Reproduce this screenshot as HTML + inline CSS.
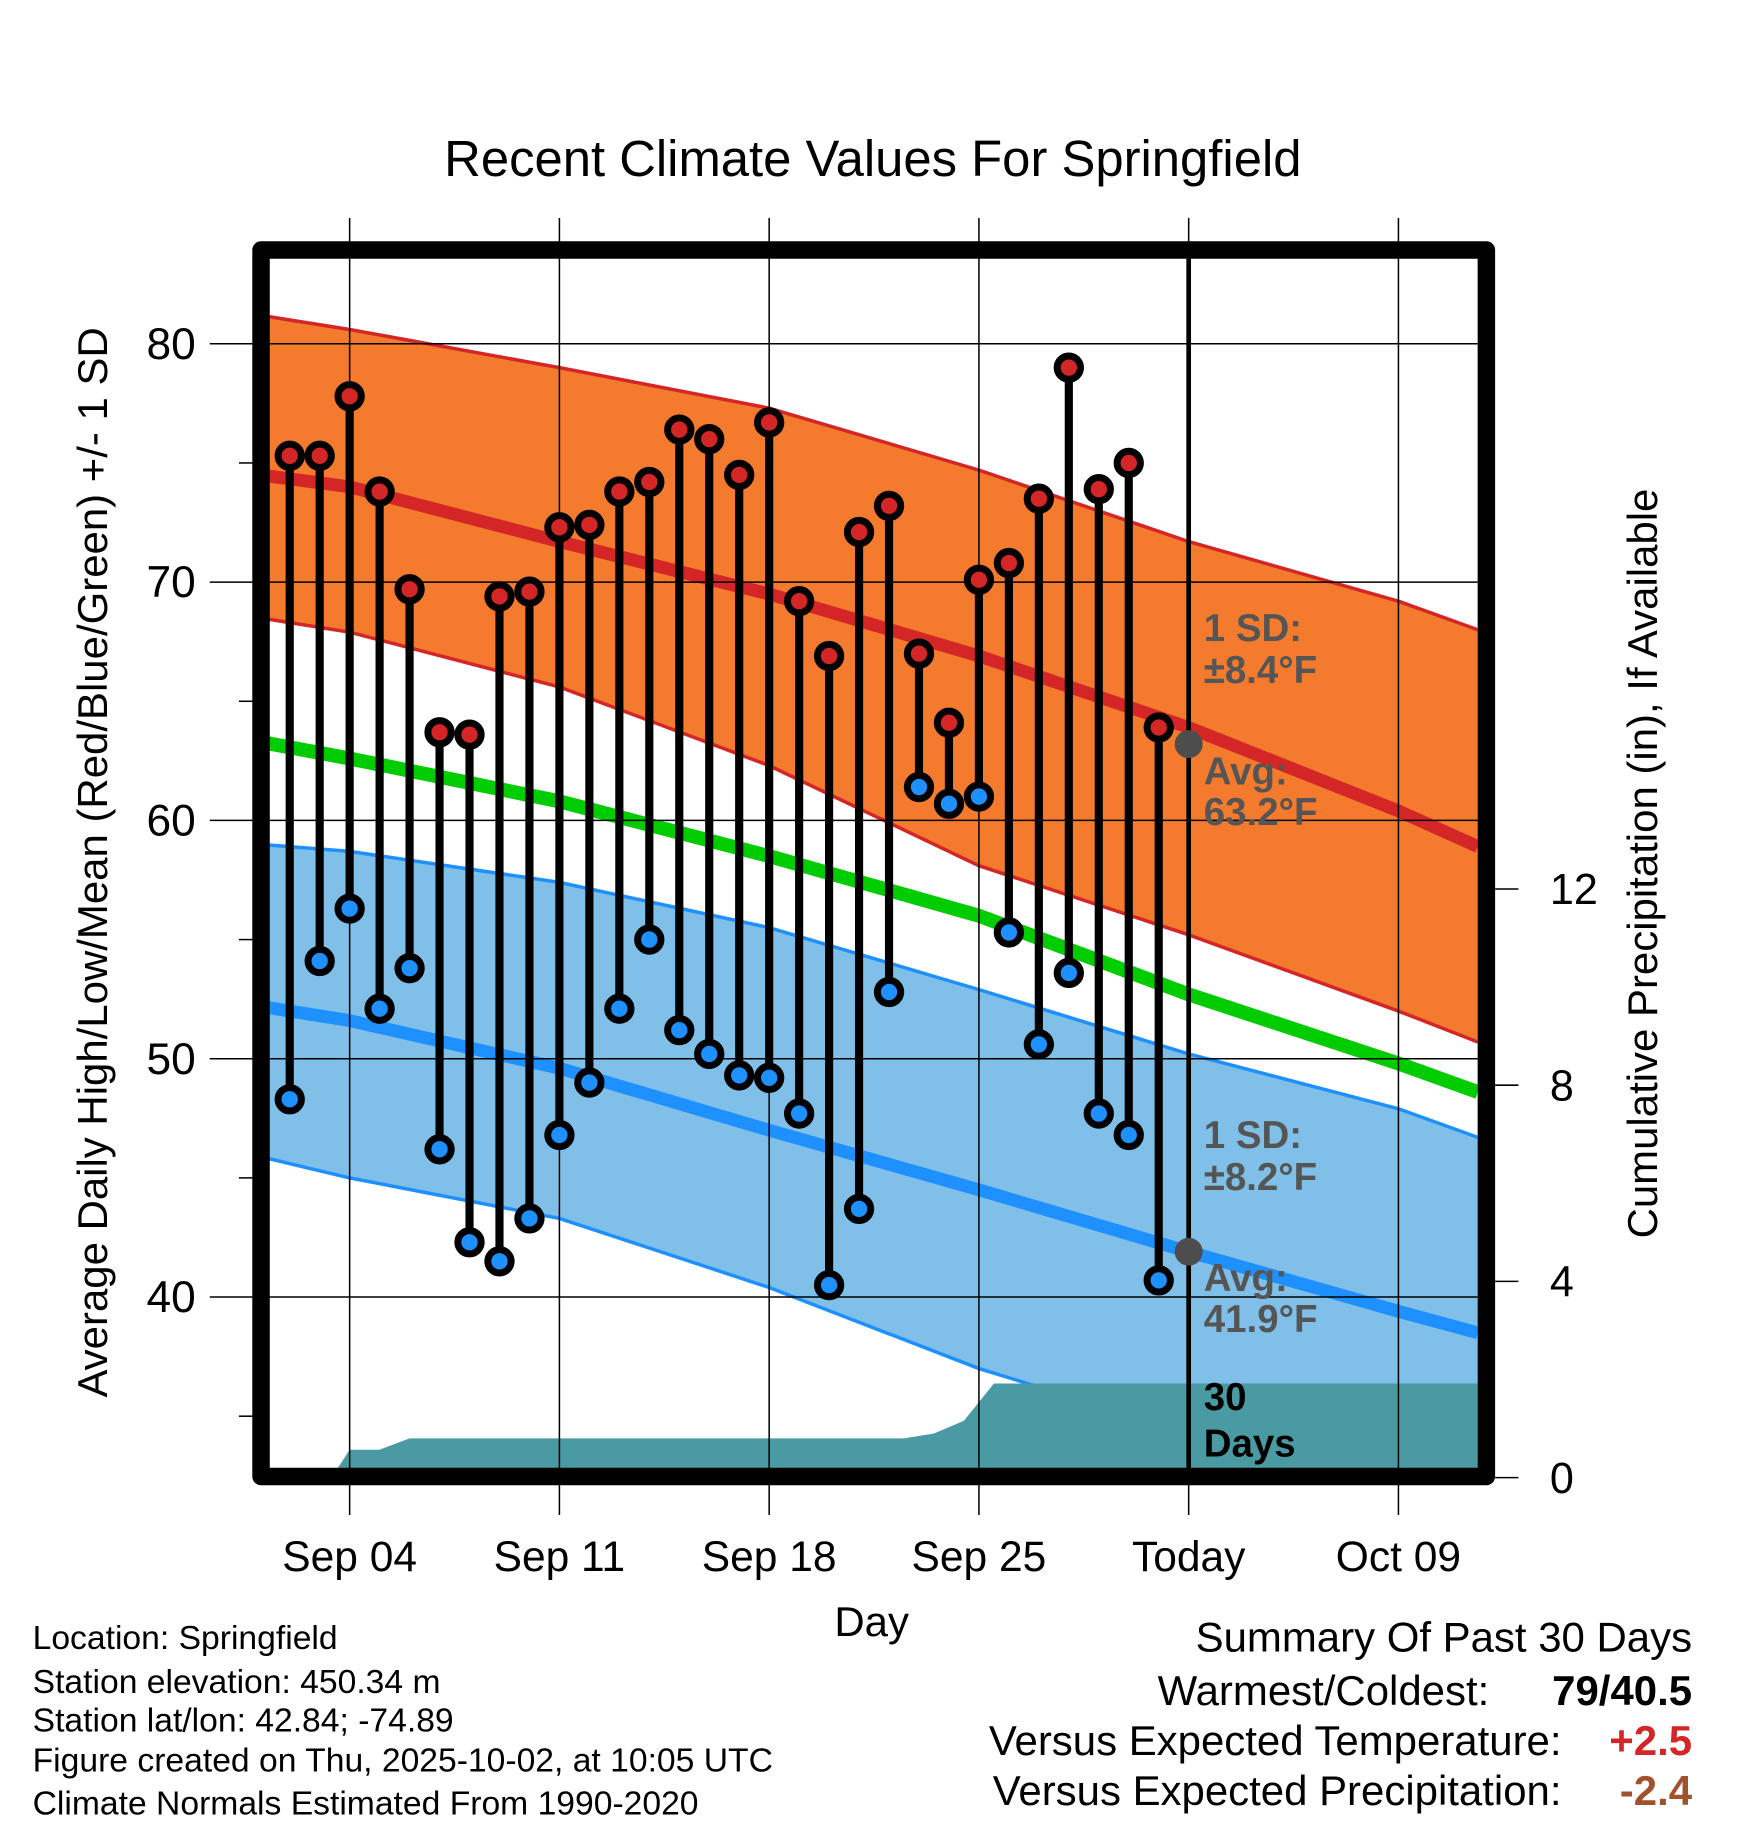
<!DOCTYPE html>
<html><head><meta charset="utf-8"><style>
html,body{margin:0;padding:0;background:#fff;}
svg{display:block;font-family:"Liberation Sans",Arial,sans-serif;}
</style></head><body>
<svg id="chart" width="1748" height="1828" viewBox="0 0 1500 1568.6" xmlns="http://www.w3.org/2000/svg">
<rect x="0" y="0" width="1500" height="1569" fill="#fff"/>
<text x="749" y="151" font-size="43.6" text-anchor="middle">Recent Climate Values For Springfield</text>
<g id="plot"></g>
</svg>
<script>
const dayLabels=["Sep 04","Sep 11","Sep 18","Sep 25","Today","Oct 09"];
const dayLabelOffsets=[3,10,17,24,31,38];
const yTicks=[40,50,60,70,80];
const yMinor=[35,45,55,65,75];
const pTicks=[0,4,8,12];
// normals at day offsets from Sep 1
const normDays=[0,3,10,17,24,31,38,40.65];
const highUpper=[81.2,80.6,79.0,77.3,74.7,71.7,69.2,68.0];
const highMean=[74.5,74.0,71.7,69.5,66.9,63.9,60.4,58.9];
const highLower=[68.5,67.9,65.6,62.3,58.1,55.2,52.0,50.7];
const avgMean=[63.3,62.6,60.8,58.5,56.0,52.7,49.8,48.6];
const lowUpper=[59.0,58.7,57.4,55.5,52.9,50.2,47.9,46.7];
const lowMean=[52.2,51.6,49.6,47.0,44.5,41.9,39.4,38.5];
const lowLower=[45.9,45.0,43.3,40.4,37.0,34.3,32.0,31.0];
// observations, Sep 2 .. Oct 1
const obsDays=[1,2,3,4,5,6,7,8,9,10,11,12,13,14,15,16,17,18,19,20,21,22,23,24,25,26,27,28,29,30];
const highs=[75.3,75.3,77.8,73.8,69.7,63.7,63.6,69.4,69.6,72.3,72.4,73.8,74.2,76.4,76.0,74.5,76.7,69.2,66.9,72.1,73.2,67.0,64.1,70.1,70.8,73.5,79.0,73.9,75.0,63.9];
const lows=[48.3,54.1,56.3,52.1,53.8,46.2,42.3,41.5,43.3,46.8,49.0,52.1,55.0,51.2,50.2,49.3,49.2,47.7,40.5,43.7,52.8,61.4,60.7,61.0,55.3,50.6,53.6,47.7,46.8,40.7];
// cumulative precipitation
const precipDays=[2.4,3,4,5,21.5,22.5,23.5,24.5,40.65];
const precipVals=[0,0.57,0.57,0.8,0.8,0.9,1.16,1.92,1.92];

const NS="http://www.w3.org/2000/svg";
const g=document.getElementById('plot');
const L=231,R=1268,T=222,B=1260;
const X=d=>222.9+d*25.714;
const Y=v=>295+(80-v)*20.45;
const P=p=>1268-p*42.1;
function el(tag,attrs,parent){const e=document.createElementNS(NS,tag);for(const k in attrs)e.setAttribute(k,attrs[k]);(parent||g).appendChild(e);return e;}
function txt(s,attrs){const e=el('text',attrs);e.textContent=s;return e;}

const defs=el('defs',{});
const cp=el('clipPath',{id:'clip'},defs);el('rect',{x:L,y:T,width:R-L,height:B-T},cp);
const pg=el('g',{'clip-path':'url(#clip)'});

function band(up,lo,fill,name){
  let d='M'+normDays.map((t,i)=>X(t)+','+Y(up[i])).join(' L');
  for(let i=normDays.length-1;i>=0;i--)d+=' L'+X(normDays[i])+','+Y(lo[i]);
  const e=el('path',{d:d+'Z',fill:fill},pg);
  
  
}
function line(arr,color,w,name){
  const e=el('polyline',{points:normDays.map((t,i)=>X(t)+','+Y(arr[i])).join(' '),fill:'none',stroke:color,'stroke-width':w},pg);
  
  
}
band(highUpper,highLower,'#f47a2e','high-sd-band');
line(highUpper,'#d42626',3,'high-sd-upper');
line(highLower,'#d42626',3,'high-sd-lower');
band(lowUpper,lowLower,'#80c0e8','low-sd-band');
line(lowUpper,'#1e90ff',3,'low-sd-upper');
line(lowLower,'#1e90ff',3,'low-sd-lower');
line(highMean,'#d42626',11,'normal-high-line');
line(avgMean,'#00cc00',12,'normal-mean-line');
line(lowMean,'#1e90ff',11,'normal-low-line');
// precip
{let d='M'+X(precipDays[0])+','+P(0);precipDays.forEach((t,i)=>d+=' L'+X(t)+','+P(precipVals[i]));d+=' L'+X(precipDays[precipDays.length-1])+','+P(0)+'Z';
const e=el('path',{d:d,fill:'#4a9aa3'},pg);

}
// grid
yTicks.forEach(v=>{const e=el('line',{x1:180,x2:R,y1:Y(v),y2:Y(v),stroke:'#000','stroke-width':1.3});


const t=txt(v,{x:168,y:Y(v)+13,'font-size':38,'text-anchor':'end'});

});
yMinor.forEach(v=>{const e=el('line',{x1:205,x2:217,y1:Y(v),y2:Y(v),stroke:'#000','stroke-width':1.3});

});
dayLabels.forEach((s,i)=>{const x=X(dayLabelOffsets[i]);
const e=el('line',{x1:x,x2:x,y1:187,y2:1300,stroke:'#000','stroke-width':1.3});


const t=txt(s,{x:x,y:1348,'font-size':36.5,'text-anchor':'middle'});

});
pTicks.forEach(p=>{const e=el('line',{x1:1283,x2:1303,y1:P(p),y2:P(p),stroke:'#000','stroke-width':1.3});


const t=txt(p,{x:1330,y:P(p)+13,'font-size':37,'text-anchor':'start'});

});
// today line
{const e=el('line',{x1:X(31),x2:X(31),y1:T,y2:B,stroke:'#000','stroke-width':4});

}
// observations
obsDays.forEach((d,i)=>{const x=X(d);
const s=el('line',{x1:x,x2:x,y1:Y(highs[i]),y2:Y(lows[i]),stroke:'#000','stroke-width':7});


const h=el('circle',{cx:x,cy:Y(highs[i]),r:10,fill:'#d42626',stroke:'#000','stroke-width':6});


const l=el('circle',{cx:x,cy:Y(lows[i]),r:10,fill:'#1e90ff',stroke:'#000','stroke-width':6});

});
// today avg markers
[[63.2,'today-high-avg-marker'],[41.9,'today-low-avg-marker']].forEach(a=>{const c=el('circle',{cx:X(31),cy:Y(a[0]),r:12,fill:'#4d4d4d'});

});
// annotations
const ann=[["1 SD:",550,'#555'],["±8.4°F",586,'#555'],["Avg:",673,'#555'],["63.2°F",708,'#555'],["1 SD:",985,'#555'],["±8.2°F",1021,'#555'],["Avg:",1108,'#555'],["41.9°F",1143,'#555'],["30",1210,'#000'],["Days",1250,'#000']];
ann.forEach(a=>{const t=txt(a[0],{x:1033,y:a[1],'font-size':33,'font-weight':'bold',fill:a[2]});

});
// frame
{const e=el('rect',{x:224,y:214.5,width:1051.5,height:1052.5,fill:'none',stroke:'#000','stroke-width':15,'stroke-linejoin':'round'});

}
// axis titles
{const t=txt('Average Daily High/Low/Mean (Red/Blue/Green) +/- 1 SD',{x:0,y:0,'font-size':36,'text-anchor':'middle',transform:'translate(92,740) rotate(-90)'});


const t2=txt('Cumulative Precipitation (in), If Available',{x:0,y:0,'font-size':36,'text-anchor':'middle',transform:'translate(1422,741) rotate(-90)'});


const t3=txt('Day',{x:748,y:1404,'font-size':36,'text-anchor':'middle'});

}
// footer
[["Location: Springfield",1415],["Station elevation: 450.34 m",1453],["Station lat/lon: 42.84; -74.89",1486],["Figure created on Thu, 2025-10-02, at 10:05 UTC",1520],["Climate Normals Estimated From 1990-2020",1557]].forEach(a=>{
const t=txt(a[0],{x:28,y:a[1],'font-size':28.9});

});
const sum=[["Summary Of Past 30 Days",1452,1417,'normal','#000'],["Warmest/Coldest:",1278,1463,'normal','#000'],["79/40.5",1452,1463,'bold','#000'],["Versus Expected Temperature:",1340,1506,'normal','#000'],["+2.5",1452,1506,'bold','#d42626'],["Versus Expected Precipitation:",1340,1549,'normal','#000'],["-2.4",1452,1549,'bold','#a0522d']];
sum.forEach(a=>{const t=txt(a[0],{x:a[1],y:a[2],'font-size':36,'text-anchor':'end','font-weight':a[3],fill:a[4]});

});
</script>
</body></html>
